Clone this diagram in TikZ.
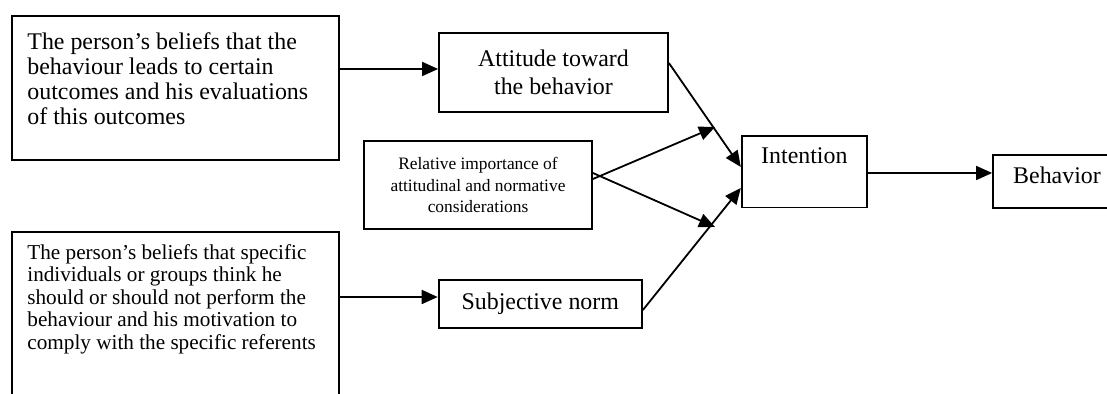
\documentclass[tikz,border=0pt]{standalone}
\usepackage{fontspec}
\setmainfont{Liberation Serif}
\usetikzlibrary{arrows.meta,calc}
\begin{document}
\begin{tikzpicture}[x=0.5pt,y=-0.5pt,
  box/.style={draw,line width=0.9pt,inner sep=0pt,rectangle},
  arr/.style={line width=0.9pt,-{Triangle[length=8pt,width=7pt]}},
  bigtxt/.style={font=\fontsize{11.95}{12.5}\selectfont},
  midtxt/.style={font=\fontsize{10.6}{11.25}\selectfont},
  smalltxt/.style={font=\fontsize{8.7}{10.75}\selectfont}]
\useasboundingbox (0,0) rectangle (1107,394);
\begin{scope}
\clip (0,0) rectangle (1107,394);
% boxes
\node[box,minimum width=163.3pt,minimum height=72pt] (b1) at (175.3,88) {};
\node[box,minimum width=163.3pt,minimum height=89pt] (b2) at (175.3,321) {};
\node[box,minimum width=114.5pt,minimum height=39.5pt,align=center,font=\fontsize{11.95}{14}\selectfont] (att) at (553.5,72.5) {Attitude toward\\the behavior};
\node[box,minimum width=114pt,minimum height=44pt,align=center,smalltxt] (rel) at (478,185) {Relative importance of\\attitudinal and normative\\considerations};
\node[box,minimum width=101.7pt,minimum height=24pt,bigtxt] (subj) at (540.3,304) {Subjective norm};
\node[box,minimum width=62.65pt,minimum height=35.75pt] (int) at (804.35,171.75) {};
\node[box,minimum width=66pt,minimum height=26.5pt] (beh) at (1059,181.5) {};
\end{scope}
% texts
\node[bigtxt,anchor=north west,inner sep=0pt,align=left] (b1t) at (27,32) {The person’s beliefs that the\\behaviour leads to certain\\outcomes and his evaluations\\of this outcomes};
\node[midtxt,anchor=north west,inner sep=0pt,align=left] (b2t) at (27,244) {The person’s beliefs that specific\\individuals or groups think he\\should or should not perform the\\behaviour and his motivation to\\comply with the specific referents};
\node[bigtxt,anchor=base,inner sep=0pt] (intt) at (804.35,163.4) {Intention};
\node[bigtxt,anchor=base,inner sep=0pt] (beht) at (1057,183.4) {Behavior};
% helper coordinates
\coordinate (h1) at (0,69);
\coordinate (h2) at (0,297);
\coordinate (h3) at (0,173);
\coordinate (rt) at (715,127);
\coordinate (rb) at (715,227);
% connectors
\draw[arr] (b1.east |- h1) -- (att.west |- h1);
\draw[arr] (b2.east |- h2) -- (subj.west |- h2);
\draw[arr] ([yshift=4.75pt]att.east) -- ([yshift=2.375pt]int.west);
\draw[arr] ([yshift=-3pt]subj.east) -- ([yshift=-8.125pt]int.west);
\draw[arr] ([yshift=3pt]rel.east) -- (rt);
\draw[arr] ([yshift=6pt]rel.east) -- (rb);
\draw[arr] (int.east |- h3) -- (beh.west |- h3);
\end{tikzpicture}
\end{document}
